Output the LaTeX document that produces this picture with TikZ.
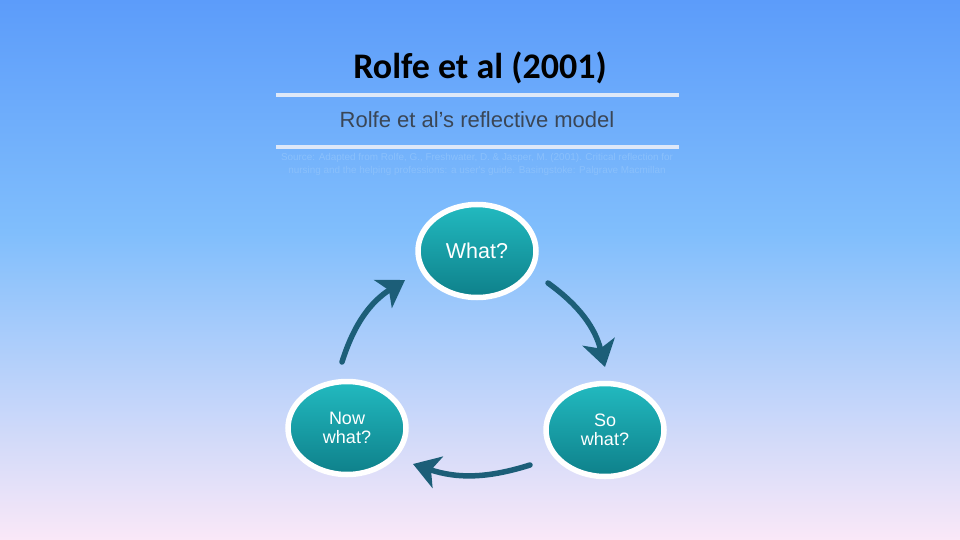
\documentclass[tikz,border=0pt]{standalone}
\usepackage{fontspec}
\setmainfont{Carlito}
\newfontfamily\arialfont{Liberation Sans}
\usepackage{tikz}
\usetikzlibrary{positioning, arrows.meta, calc, shapes.geometric, shadows}
\definecolor{bgtop}{RGB}{92,156,250}
\definecolor{bgmid}{RGB}{128,190,252}
\definecolor{bgbot}{RGB}{250,232,248}
\definecolor{rulecol}{RGB}{222,232,248}
\definecolor{subink}{RGB}{58,70,86}
\definecolor{faint}{RGB}{138,192,251}
\definecolor{tealhi}{RGB}{34,186,192}
\definecolor{tealdk}{RGB}{14,128,138}
\definecolor{arrowink}{RGB}{28,94,120}
\pgfdeclareverticalshading{slidebg}{100bp}{color(0bp)=(bgbot); color(25bp)=(bgbot);
  color(53.5bp)=(bgmid); color(75bp)=(bgtop); color(100bp)=(bgtop)}

\begin{document}
\begin{tikzpicture}[
  x=1pt, y=-1pt,
  rulebar/.style={draw=rulecol, line width=4pt},
  bubble/.style={ellipse, draw=white, line width=5.5pt, minimum width=118pt,
                 minimum height=93pt, inner sep=0pt, top color=tealhi,
                 bottom color=tealdk, text=white, align=center,
                 drop shadow={opacity=.25, shadow xshift=1pt, shadow yshift=-2pt}},
  cycle/.style={draw=arrowink, line width=5.5pt, line cap=round,
                -{Stealth[length=26pt, width=33pt, inset=7pt]}},
]
\shade[shading=slidebg] (0,0) rectangle (960,540);
\useasboundingbox (0,0) rectangle (960,540);

\node[font=\fontsize{36}{40}\selectfont\bfseries] (title) at (480,68) {Rolfe et al (2001)};
\draw[rulebar] (276,95) -- (679,95);
\node[font=\arialfont\fontsize{22}{26}\selectfont, text=subink] (model) at (477,120)
  {Rolfe et al’s reflective model};
\draw[rulebar] (276,147) -- (679,147);
\node[font=\arialfont\fontsize{9.9}{13}\selectfont, text=faint, align=center] (source) at (477,164)
  {Source: Adapted from Rolfe, G., Freshwater, D. \& Jasper, M. (2001). Critical reflection for\\
   nursing and the helping professions: a user's guide. Basingstoke: Palgrave Macmillan};

\node[bubble, font=\arialfont\fontsize{21.5}{23}\selectfont] (what) at (477,251) {What?};
\node[bubble, font=\arialfont\fontsize{18}{19}\selectfont] (sowhat) at (605,430) {So\\what?};
\node[bubble, font=\arialfont\fontsize{18}{19}\selectfont] (nowwhat) at (347,428) {Now\\what?};

\coordinate (what-out) at ($(what)+(71,32)$);
\coordinate (sowhat-in) at ($(sowhat)+(0,-63)$);
\coordinate (sowhat-out) at ($(sowhat)+(-75,35)$);
\coordinate (nowwhat-in) at ($(nowwhat)+(66,36)$);
\coordinate (nowwhat-out) at ($(nowwhat)+(-5,-66)$);
\coordinate (what-in) at ($(what)+(-72,29)$);

\draw[cycle] (what-out) to[bend left=20] (sowhat-in);
\draw[cycle] (sowhat-out) to[bend left=18] (nowwhat-in);
\draw[cycle] (nowwhat-out) to[bend left=20] (what-in);
\end{tikzpicture}
\end{document}
